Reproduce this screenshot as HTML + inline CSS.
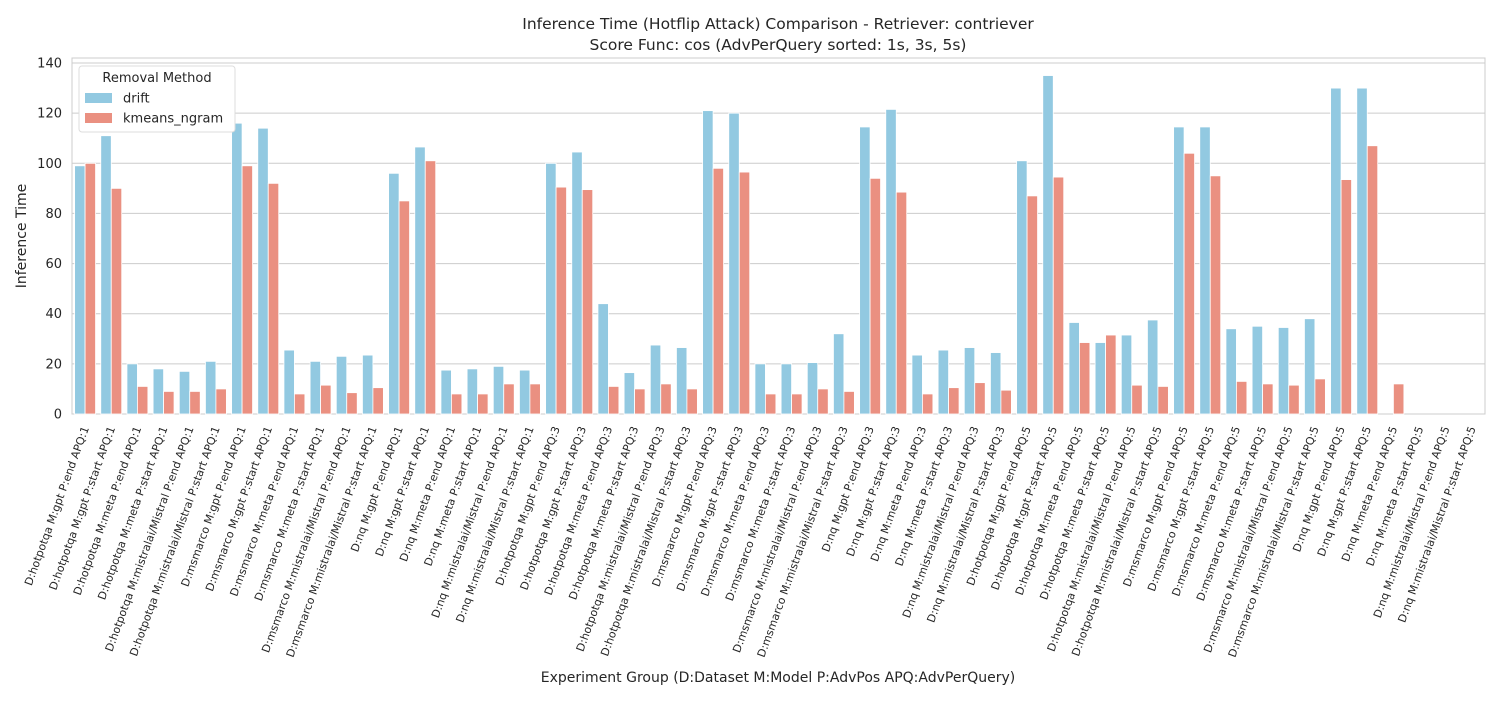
<!DOCTYPE html>
<html><head><meta charset="utf-8">
<style>
body{margin:0;background:#fff;font-family:"Liberation Sans","DejaVu Sans",sans-serif;}
svg text{font-family:"DejaVu Sans","Liberation Sans",sans-serif;fill:#262626;}
</style></head>
<body>
<svg id="chart" width="1500" height="700" xmlns="http://www.w3.org/2000/svg"></svg>
<script>
const datasets=["hotpotqa","msmarco","nq"];
const models=["gpt","meta","mistralai/Mistral"];
const categories=[];
for(const a of [1,3,5])for(const d of datasets)for(const m of models)for(const p of ["end","start"])
  categories.push("D:"+d+" M:"+m+" P:"+p+" APQ:"+a);
const drift=[99,111,20,18,17,21,116,114,25.5,21,23,23.5,96,106.5,17.5,18,19,17.5,
100,104.5,44,16.5,27.5,26.5,121,120,20,20,20.5,32,114.5,121.5,23.5,25.5,26.5,24.5,
101,135,36.5,28.5,31.5,37.5,114.5,114.5,34,35,34.5,38,130,130,null,null,null,null];
const kmeans=[100,90,11,9,9,10,99,92,8,11.5,8.5,10.5,85,101,8,8,12,12,
90.5,89.5,11,10,12,10,98,96.5,8,8,10,9,94,88.5,8,10.5,12.5,9.5,
87,94.5,28.5,31.5,11.5,11,104,95,13,12,11.5,14,93.5,107,12,null,null,null];
const yTicks=[0,20,40,60,80,100,120,140];

const NS="http://www.w3.org/2000/svg";
const svg=document.getElementById("chart");
const L=72,R=1485,T=58,B=414,YMAX=142;
const y=v=>B-v/YMAX*(B-T);
const gw=(R-L)/categories.length;
const x=i=>L+i*gw;
function el(tag,attrs,txt){const e=document.createElementNS(NS,tag);for(const k in attrs)e.setAttribute(k,attrs[k]);if(txt!==undefined)e.textContent=txt;svg.appendChild(e);return e;}

let e=el("rect",{x:L,y:T,width:R-L,height:B-T,fill:"#fff",stroke:"#ccc"});


yTicks.forEach(t=>{
  let g=el("line",{x1:L,x2:R,y1:y(t),y2:y(t),stroke:"#ccc","stroke-width":1});
  
  
  let lb=el("text",{x:L-10,y:y(t)+4.5,"text-anchor":"end","font-size":13},t);
  
  
});
const bw=gw*0.4;
categories.forEach((c,i)=>{
  const cx=x(i)+gw/2;
  if(drift[i]!=null){
    let r=el("rect",{x:cx-bw,y:y(drift[i]),width:bw,height:B-y(drift[i]),fill:"#92c9e1",stroke:"#fff","stroke-width":0.8});
    
    
  }
  if(kmeans[i]!=null){
    let r=el("rect",{x:cx,y:y(kmeans[i]),width:bw,height:B-y(kmeans[i]),fill:"#ea9081",stroke:"#fff","stroke-width":0.8});
    
    
  }
  let t=el("text",{x:cx+4,y:B+14,"text-anchor":"end","font-size":11,transform:"rotate(-70 "+(cx+4)+" "+(B+14)+")"},c);
  
  
});
let t1=el("text",{x:778,y:29,"text-anchor":"middle","font-size":15.5},"Inference Time (Hotflip Attack) Comparison - Retriever: contriever");


let t2=el("text",{x:778,y:50,"text-anchor":"middle","font-size":15.5},"Score Func: cos (AdvPerQuery sorted: 1s, 3s, 5s)");


let yl=el("text",{x:26,y:236,"text-anchor":"middle","font-size":14,transform:"rotate(-90 26 236)"},"Inference Time");


let xl=el("text",{x:778,y:682,"text-anchor":"middle","font-size":14},"Experiment Group (D:Dataset M:Model P:AdvPos APQ:AdvPerQuery)");


let lg=el("rect",{x:79,y:66,width:156,height:66,fill:"#fff",stroke:"#ddd",rx:3});


let lt=el("text",{x:157,y:82,"text-anchor":"middle","font-size":13},"Removal Method");


[["drift","#92c9e1",98],["kmeans_ngram","#ea9081",118]].forEach(([n,c,yy])=>{
  let s=el("rect",{x:85,y:yy-5,width:27,height:10,fill:c});
  
  
  let tx=el("text",{x:123,y:yy+4.5,"font-size":13},n);
  
  
});
</script>
</body></html>
